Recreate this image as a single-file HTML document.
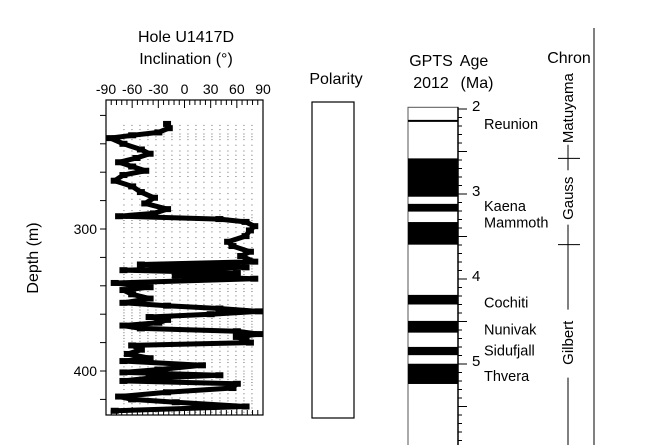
<!DOCTYPE html>
<html><head><meta charset="utf-8"><style>
body{margin:0;background:#fff}
svg{display:block;font-family:"Liberation Sans",sans-serif}
</style></head><body>
<svg id="c" width="647" height="445" viewBox="0 0 647 445">
<g>
<text x="186" y="42" font-size="16" text-anchor="middle">Hole U1417D</text>
<text x="186" y="64" font-size="16" text-anchor="middle">Inclination (°)</text>
<text transform="translate(38,258) rotate(-90)" font-size="16" text-anchor="middle">Depth (m)</text>
<g id="incAxis"></g>
<g id="incData"></g>
<rect x="106" y="100" width="157" height="315" fill="none" stroke="#000" stroke-width="1.2"/>
</g>
<g>
<text x="336" y="84" font-size="16" text-anchor="middle">Polarity</text>
<rect x="312" y="102" width="42" height="316" fill="none" stroke="#000" stroke-width="1.2"/>
</g>
<g>
<text x="431" y="66" font-size="16" text-anchor="middle">GPTS</text>
<text x="431" y="88" font-size="16" text-anchor="middle">2012</text>
<text x="474" y="66" font-size="16" text-anchor="middle">Age</text>
<text x="477" y="88" font-size="16" text-anchor="middle">(Ma)</text>
<text x="569" y="63" font-size="16" text-anchor="middle">Chron</text>
<g id="gpts"></g>
<line x1="594" y1="28" x2="594" y2="445" stroke="#000" stroke-width="1"/>
<g id="chron"></g>
</g>
</svg>
<script>
// Inclination data (depth m, inclination deg)
const depths=[226,229,232,234,236,240,244,247,250,253,256,259,262,266,270,274,278,282,286,289,291,293,295,298,301,305,309,312,316,319,323,325,327,329,331,333,335,338,341,343,346,349,352,354,356,358,360,362,364,366,368,370,372,374,376,378,380,382,385,388,391,393,396,399,401,403,405,407,409,412,415,418,420,422,425,428];
const incl=[-20,-18,-30,-60,-85,-70,-50,-40,-55,-75,-60,-45,-70,-80,-60,-50,-35,-45,-20,-35,-75,40,70,80,75,70,50,55,75,65,80,-50,70,-70,60,-10,80,-80,-40,-70,-60,-40,-70,-20,40,85,30,-40,-20,-30,-70,-50,60,85,60,70,75,-60,-50,-65,-40,-70,20,-30,-70,40,-40,-70,60,55,-20,-75,-60,-10,70,-80];
const incTicks=[-90,-60,-30,0,30,60,90];
const depthTicks=[300,400];
// GPTS 2012 normal-polarity chrons (Ma)
const chronTop=[2.128,2.581,3.116,3.330,4.187,4.493,4.799,4.997];
const chronBase=[2.148,3.032,3.207,3.596,4.300,4.631,4.896,5.235];
const ageTicks=[2,3,4,5];
const subchronNames=["Reunion","Kaena","Mammoth","Cochiti","Nunivak","Sidufjall","Thvera"];
const subchronAges=[2.15,3.12,3.31,4.25,4.57,4.82,5.12];
const chronNames=["Matuyama","Gauss","Gilbert"];
const chronMids=[1.99,3.05,4.75];
const chronBounds=[2.581,3.596];

const NS="http://www.w3.org/2000/svg";
function mk(tag,attrs,parent){const e=document.createElementNS(NS,tag);for(const k in attrs)e.setAttribute(k,attrs[k]);parent.appendChild(e);return e;}
const xI=v=>106+(v+90)*157/180;
const yD=d=>229+(d-300)*1.42;
const yA=a=>109+(a-2)*85;

const ax=document.getElementById('incAxis');
for(let v=-90;v<=90;v+=6){
  const major=incTicks.includes(v);
  const l1=mk('line',{x1:xI(v),y1:100,x2:xI(v),y2:100+(major?8:5),stroke:'#000','stroke-width':1},ax);
  
  
  const l2=mk('line',{x1:xI(v),y1:415,x2:xI(v),y2:415-(major?8:5),stroke:'#000','stroke-width':1},ax);
  
  
}
incTicks.forEach(v=>{
  const t=mk('text',{x:xI(v),y:94,'font-size':14,'text-anchor':'middle'},ax);
  t.textContent=String(v);
  
  
});
for(let d=220;d<=420;d+=20){
  const l=mk('line',{x1:100,y1:yD(d),x2:106,y2:yD(d),stroke:'#000','stroke-width':1},ax);
  
  
}
depthTicks.forEach(d=>{
  const t=mk('text',{x:97,y:yD(d)+5,'font-size':14,'text-anchor':'end'},ax);
  t.textContent=String(d);
  
  
});
const dg=document.getElementById('incData');
const pts=depths.map((d,i)=>xI(incl[i]).toFixed(1)+','+yD(d).toFixed(1)).join(' ');
const pl=mk('polyline',{points:pts,fill:'none',stroke:'#000','stroke-width':5,'stroke-linejoin':'round'},dg);


depths.forEach((d,i)=>{
  const c=mk('rect',{x:xI(incl[i])-4,y:yD(d)-3,width:8,height:6,fill:'#000'},dg);
  
  
  const s=mk('line',{x1:xI(-70),y1:yD(d)+1.5,x2:xI(80),y2:yD(d)+1.5,stroke:'#000','stroke-width':1,'stroke-dasharray':'1 7',opacity:0.6},dg);
  
  
});

const g=document.getElementById('gpts');
const frame=mk('rect',{x:408,y:yA(1.98),width:50,height:445-yA(1.98)+2,fill:'none',stroke:'#555','stroke-width':1},g);


chronTop.forEach((t,i)=>{
  const r=mk('rect',{x:408,y:yA(t),width:50,height:Math.max(2,yA(chronBase[i])-yA(t)),fill:'#000'},g);
  
  
});
mk('line',{x1:458,y1:yA(1.98),x2:458,y2:445,stroke:'#000','stroke-width':1.5},g);
for(let a=2;a<=6.2;a+=0.1){
  const a1=Math.round(a*10)/10;
  const major=Math.abs(a1*2-Math.round(a1*2))<1e-6;
  const l=mk('line',{x1:458,y1:yA(a1),x2:458+(major?9:4),y2:yA(a1),stroke:'#000','stroke-width':1},g);
  
  
}
ageTicks.forEach(a=>{
  const t=mk('text',{x:472,y:yA(a)+2,'font-size':15},g);
  t.textContent=String(a);
  
  
});
subchronNames.forEach((n,i)=>{
  const t=mk('text',{x:484,y:yA(subchronAges[i])+7,'font-size':14.5},g);
  t.textContent=n;
  
  
});

const ch=document.getElementById('chron');
const cx=568;
const segs=[[2.42,2.72],[3.36,4.36],[5.16,6.2]];
segs.forEach(s=>{
  const l=mk('line',{x1:cx,y1:yA(s[0]),x2:cx,y2:yA(s[1]),stroke:'#000','stroke-width':1},ch);
  
  
});
chronBounds.forEach(b=>{
  const l=mk('line',{x1:cx-10,y1:yA(b),x2:cx+12,y2:yA(b),stroke:'#000','stroke-width':1},ch);
  
  
});
chronNames.forEach((n,i)=>{
  const t=mk('text',{transform:`translate(${cx+5},${yA(chronMids[i])}) rotate(-90)`,'font-size':15,'text-anchor':'middle'},ch);
  t.textContent=n;
  
  
});
</script>
</body></html>
